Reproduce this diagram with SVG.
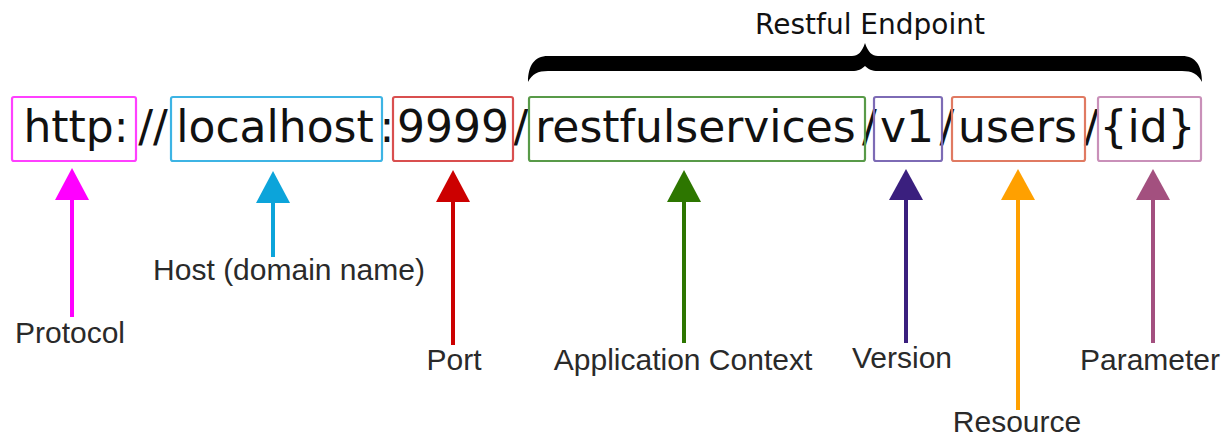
<svg xmlns="http://www.w3.org/2000/svg" width="1232" height="439" viewBox="0 0 1232 439">
<style>
.url{font-family:"DejaVu Sans",Verdana,sans-serif;font-size:44px;fill:#111;text-anchor:middle}
.lbl{font-family:"Liberation Sans",Arial,sans-serif;font-size:30px;fill:#2a2a2a;text-anchor:middle}
.ttl{font-family:"DejaVu Sans",Verdana,sans-serif;font-size:28px;fill:#111;text-anchor:middle}
.box{fill:none;stroke-width:2.2}
.shaft{stroke-width:4;fill:none}
</style>
<rect width="1232" height="439" fill="#ffffff"/>
<g id="endpoint-brace">
<path d="M528,82 C528,66 534,56 548,56 L852,56 C858,56 862,52 865,43 C868,52 872,56 878,56 L1182,56 C1196,56 1202,66 1202,82 C1198,74 1192,71 1182,71 L878,71 C872,71 868,69 865,66 C862,69 858,71 852,71 L548,71 C538,71 532,74 528,82 Z" fill="#000"/>
<text class="ttl" x="870" y="34">Restful Endpoint</text>
</g>
<g id="separators">
<text class="url" x="153" y="142">//</text>
<text class="url" x="387" y="142">:</text>
<text class="url" x="521" y="142">/</text>
<text class="url" x="869.5" y="142">/</text>
<text class="url" x="947" y="142">/</text>
<text class="url" x="1091.5" y="142">/</text>
</g>
<g id="protocol">
<rect class="box" x="12" y="97" width="124" height="64" rx="2" stroke="#FF40FF"/>
<text class="url" x="76" y="142">http:</text>
</g>
<g id="host">
<rect class="box" x="171" y="97" width="211" height="64" rx="2" stroke="#3DB4E4"/>
<text class="url" x="275" y="142">localhost</text>
</g>
<g id="port">
<rect class="box" x="393" y="97" width="120" height="64" rx="2" stroke="#D94F4F"/>
<text class="url" x="453" y="142">9999</text>
</g>
<g id="context">
<rect class="box" x="529" y="97" width="336" height="64" rx="2" stroke="#589A48"/>
<text class="url" x="695.5" y="142">restfulservices</text>
</g>
<g id="version">
<rect class="box" x="874" y="97" width="68" height="64" rx="2" stroke="#7D6BB5"/>
<text class="url" x="907" y="142">v1</text>
</g>
<g id="resource">
<rect class="box" x="952" y="97" width="133" height="64" rx="2" stroke="#E07A62"/>
<text class="url" x="1017.5" y="142">users</text>
</g>
<g id="parameter">
<rect class="box" x="1098" y="97" width="103" height="64" rx="2" stroke="#C990B9"/>
<text class="url" x="1147.5" y="142">{id}</text>
</g>
<g id="connectors">
<line class="shaft" x1="72" y1="199" x2="72" y2="317" stroke="#FF00FF"/>
<polygon points="72,168 55,200 89,200" fill="#FF00FF"/>
<line class="shaft" x1="273" y1="202" x2="273" y2="257" stroke="#0CA4DA"/>
<polygon points="273,171 256,203 290,203" fill="#0CA4DA"/>
<line class="shaft" x1="453" y1="201" x2="453" y2="345" stroke="#CC0000"/>
<polygon points="453,170 436,202 470,202" fill="#CC0000"/>
<line class="shaft" x1="684" y1="201" x2="684" y2="343" stroke="#2D7600"/>
<polygon points="684,170 667,202 701,202" fill="#2D7600"/>
<line class="shaft" x1="906" y1="199" x2="906" y2="343" stroke="#3A1F7E"/>
<polygon points="906,169 889,200 923,200" fill="#3A1F7E"/>
<line class="shaft" x1="1018" y1="199" x2="1018" y2="410" stroke="#FFA000"/>
<polygon points="1018,169 1001,200 1035,200" fill="#FFA000"/>
<line class="shaft" x1="1153" y1="199" x2="1153" y2="343" stroke="#A3507F"/>
<polygon points="1153,169 1136,200 1170,200" fill="#A3507F"/>
</g>
<g id="labels">
<text class="lbl" x="70" y="343">Protocol</text>
<text class="lbl" x="289" y="280">Host (domain name)</text>
<text class="lbl" x="454" y="370">Port</text>
<text class="lbl" x="683" y="370">Application Context</text>
<text class="lbl" x="902" y="368">Version</text>
<text class="lbl" x="1017" y="432">Resource</text>
<text class="lbl" x="1150" y="370">Parameter</text>
</g>
</svg>
